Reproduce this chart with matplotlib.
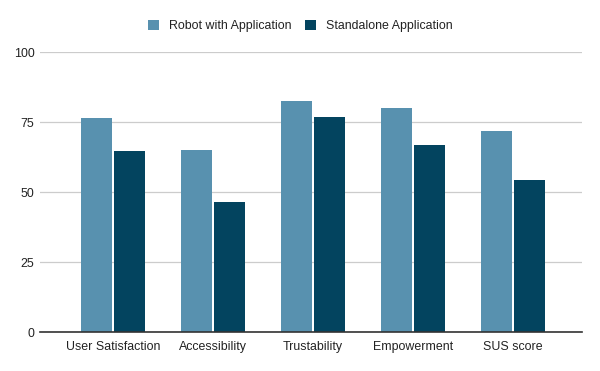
import numpy as np
import matplotlib
matplotlib.use("Agg")
import matplotlib.pyplot as plt
from matplotlib.patches import Patch

categories = ["User Satisfaction", "Accessibility", "Trustability", "Empowerment", "SUS score"]
robot_app = [76.4, 65.1, 82.6, 80.1, 71.9]
standalone_app = [64.7, 46.5, 76.9, 66.9, 54.4]
series_names = ["Robot with Application", "Standalone Application"]
yticks = [0, 25, 50, 75, 100]

c_light = "#5891af"
c_dark = "#03445f"

plt.rcParams["font.family"] = ["Liberation Sans", "DejaVu Sans"]

fig = plt.figure(figsize=(6.0, 3.71), dpi=100)
ax = fig.add_axes([40 / 600, 1 - 332.3 / 371, 542 / 600, 280 / 371])

x = np.arange(len(categories))
w = 0.31
ax.bar(x - 0.166, robot_app, width=w, color=c_light, zorder=2)
ax.bar(x + 0.166, standalone_app, width=w, color=c_dark, zorder=2)

ax.set_xlim(-0.73, 4.69)
ax.set_ylim(0, 100)
ax.set_yticks(yticks)
ax.set_yticklabels([str(t) for t in yticks], fontsize=8.9, color="#222222")
ax.set_xticks(x)
ax.set_xticklabels(categories, fontsize=8.9, color="#222222")
ax.tick_params(length=0, pad=6)
ax.tick_params(axis="y", pad=4)
ax.grid(axis="y", color="#cccccc", linewidth=0.9, zorder=0)
for s in ["top", "right", "left"]:
    ax.spines[s].set_visible(False)
ax.spines["bottom"].set_color("#333333")
ax.spines["bottom"].set_linewidth(1.2)
ax.spines["bottom"].set_zorder(3)

handles = [Patch(facecolor=c_light), Patch(facecolor=c_dark)]
fig.legend(handles, series_names, loc="center", bbox_to_anchor=(0.5, 1 - 26 / 371),
           ncol=2, frameon=False, fontsize=8.9, handlelength=0.9, handleheight=0.9,
           handletextpad=0.8, columnspacing=1.1, labelcolor="#222222")

fig.savefig("out.png", dpi=100)
